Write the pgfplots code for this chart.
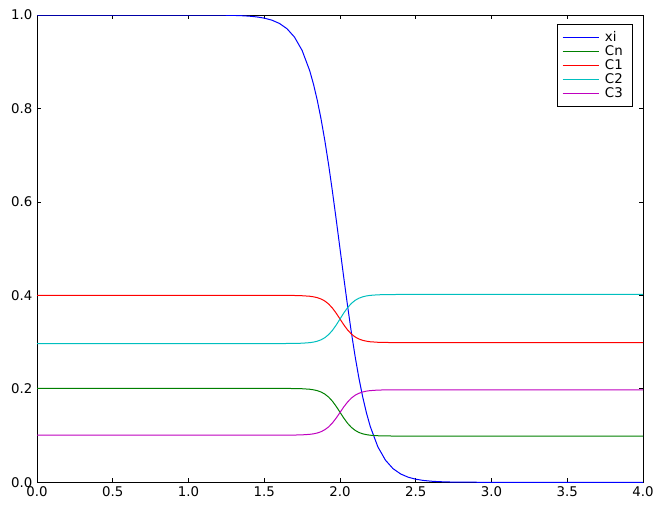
\documentclass[border=0pt]{standalone}
\usepackage{fontspec}
\setmainfont{DejaVu Sans}
\usepackage{pgfplots}
\pgfplotsset{compat=1.18}
\usepackage{pgfplotstable}
\definecolor{mplb}{rgb}{0,0,1}
\definecolor{mplg}{rgb}{0,0.5,0}
\definecolor{mplr}{rgb}{1,0,0}
\definecolor{mplc}{rgb}{0,0.75,0.75}
\definecolor{mplm}{rgb}{0.75,0,0.75}

\pgfplotstableread{
x xi Cn C1 C2 C3
0.0 1.00000 0.2010 0.4000 0.2970 0.1010
0.5 1.00000 0.2010 0.4000 0.2970 0.1010
1.0 0.99995 0.2010 0.4000 0.2970 0.1010
1.2 0.99966 0.2010 0.4000 0.2970 0.1010
1.25 0.99945 0.2010 0.4000 0.2970 0.1010
1.3 0.99909 0.2010 0.4000 0.2970 0.1010
1.35 0.99850 0.2010 0.4000 0.2970 0.1010
1.4 0.99753 0.2010 0.4000 0.2970 0.1010
1.45 0.99593 0.2010 0.4000 0.2970 0.1010
1.5 0.99331 0.2010 0.4000 0.2970 0.1010
1.55 0.98901 0.2010 0.4000 0.2970 0.1010
1.6 0.98201 0.2010 0.4000 0.2970 0.1010
1.65 0.97069 0.2009 0.3999 0.2971 0.1011
1.7 0.95257 0.2007 0.3998 0.2973 0.1012
1.75 0.92414 0.2003 0.3993 0.2977 0.1016
1.8 0.88080 0.1992 0.3982 0.2989 0.1027
1.825 0.85195 0.1980 0.3970 0.3001 0.1038
1.85 0.81757 0.1962 0.3952 0.3020 0.1056
1.875 0.77730 0.1933 0.3923 0.3050 0.1084
1.9 0.73106 0.1888 0.3880 0.3095 0.1126
1.925 0.67918 0.1824 0.3816 0.3162 0.1187
1.95 0.62246 0.1736 0.3728 0.3252 0.1271
1.975 0.56218 0.1625 0.3619 0.3366 0.1376
2.0 0.50000 0.1500 0.3495 0.3495 0.1495
2.025 0.43782 0.1375 0.3371 0.3624 0.1614
2.05 0.37754 0.1264 0.3262 0.3738 0.1719
2.075 0.32082 0.1176 0.3174 0.3828 0.1803
2.1 0.26894 0.1112 0.3110 0.3895 0.1864
2.125 0.22270 0.1067 0.3067 0.3940 0.1906
2.15 0.18243 0.1038 0.3038 0.3970 0.1934
2.175 0.14805 0.1020 0.3020 0.3989 0.1952
2.2 0.11920 0.1008 0.3008 0.4001 0.1963
2.25 0.07586 0.0997 0.2997 0.4013 0.1974
2.3 0.04743 0.0993 0.2993 0.4017 0.1978
2.35 0.02931 0.0991 0.2991 0.4019 0.1979
2.4 0.01799 0.0990 0.2990 0.4020 0.1980
2.45 0.01099 0.0990 0.2990 0.4020 0.1980
2.5 0.00669 0.0990 0.2990 0.4020 0.1980
2.55 0.00407 0.0990 0.2990 0.4020 0.1980
2.6 0.00247 0.0990 0.2990 0.4020 0.1980
2.65 0.00150 0.0990 0.2990 0.4020 0.1980
2.7 0.00091 0.0990 0.2990 0.4020 0.1980
2.75 0.00055 0.0990 0.2990 0.4020 0.1980
2.8 0.00034 0.0990 0.2990 0.4020 0.1980
3.0 0.00005 0.0990 0.2990 0.4020 0.1980
3.5 0.00000 0.0990 0.2990 0.4020 0.1980
4.0 0.00000 0.0990 0.2990 0.4020 0.1980
}\data

\begin{document}
\begin{tikzpicture}
\begin{axis}[
  scale only axis,
  width=454.5pt, height=350.5pt,
  xmin=0, xmax=4, ymin=0, ymax=1,
  xtick={0,0.5,1,1.5,2,2.5,3,3.5,4},
  ytick={0,0.2,0.4,0.6,0.8,1},
  xticklabel style={/pgf/number format/.cd, fixed, fixed zerofill, precision=1},
  yticklabel style={/pgf/number format/.cd, fixed, fixed zerofill, precision=1},
  /pgf/number format/assume math mode=true,
  ticklabel style={font=\fontsize{10}{12}\selectfont},
  tick align=inside,
  xtick pos=both, ytick pos=both,
  xticklabel pos=bottom, yticklabel pos=left,
  major tick length=3pt,
  tick style={black, line width=0.6pt},
  axis line style={black, line width=0.75pt},
  legend style={at={(0.9835,0.981)}, anchor=north east,
    font=\fontsize{10}{10.5}\selectfont,
    inner xsep=3.5pt, inner ysep=5.5pt, row sep=1.5pt,
    nodes={inner xsep=4pt, inner ysep=0pt, text depth=0.15em}},
  legend cell align=left,
  legend image post style={xscale=1.6},
]
\addplot[mplb, line width=0.75pt] table[x=x, y=xi] {\data};
\addlegendentry{xi}
\addplot[mplg, line width=0.75pt] table[x=x, y=Cn] {\data};
\addlegendentry{Cn}
\addplot[mplr, line width=0.75pt] table[x=x, y=C1] {\data};
\addlegendentry{C1}
\addplot[mplc, line width=0.75pt] table[x=x, y=C2] {\data};
\addlegendentry{C2}
\addplot[mplm, line width=0.75pt] table[x=x, y=C3] {\data};
\addlegendentry{C3}
\end{axis}
\pgfresetboundingbox
\path[use as bounding box] ([xshift=-27.75pt,yshift=-16.5pt]current axis.south west) rectangle ([xshift=9.75pt,yshift=11.25pt]current axis.north east);
\end{tikzpicture}
\end{document}
